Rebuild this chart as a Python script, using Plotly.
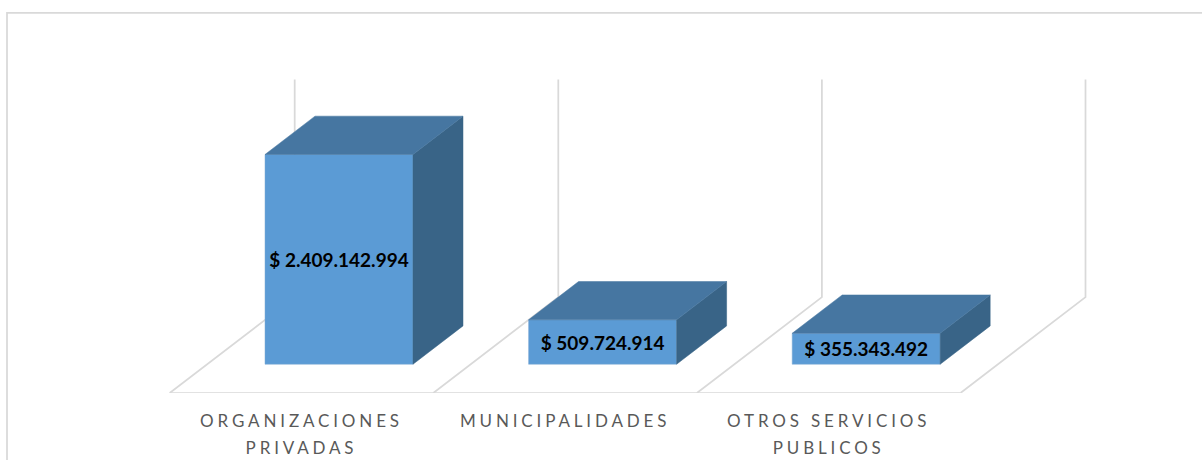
import plotly.graph_objects as go

categories = ["ORGANIZACIONES<br>PRIVADAS", "MUNICIPALIDADES", "OTROS SERVICIOS<br>PUBLICOS"]
values = [2409142994, 509724914, 355343492]
value_labels = ["$ 2.409.142.994", "$ 509.724.914", "$ 355.343.492"]
axis_max = 2500000000

W, H = 1202, 460
CAT_PX = 263.6            # width of one category on the floor
FLOOR_Y = 393.5           # pixel row of the floor's front edge
FIRST_X = 301.5           # pixel column of the first category centre
PX_PER_VALUE = 210 / values[0]
DEPTH_DX = 125 / CAT_PX   # floor depth, in x-axis units
DEPTH_DY = 96 / PX_PER_VALUE  # floor depth, in y-axis units
BAR_W = 148 / CAT_PX
D0, D1 = 0.3, 0.7         # bar's front and back depth on the floor


def px(cat, depth):
    return cat + depth * DEPTH_DX


def py(val, depth):
    return val + depth * DEPTH_DY


fig = go.Figure()

GRID = dict(color="#D9D9D9", width=1.75)

# floor and wall lines, as shapes beneath every trace
shapes = [dict(type="line", xref="x", yref="y", x0=-0.5, x1=len(values) - 0.5, y0=0, y1=0,
               line=GRID, layer="below")]
for i in range(len(values) + 1):
    c = i - 0.5
    shapes.append(dict(type="path", xref="x", yref="y", layer="below", line=GRID,
                       path=f"M{px(c, 0)},{py(0, 0)} L{px(c, 1)},{py(0, 1)} L{px(c, 1)},{py(axis_max, 1)}"))
# chart frame
shapes.append(dict(type="rect", xref="paper", yref="paper",
                   x0=7 / W, x1=1.01, y0=-0.3, y1=(FLOOR_Y - 13) / FLOOR_Y,
                   line=GRID, fillcolor="rgba(0,0,0,0)", layer="below"))

# top and side faces of the bars
EDGE = "#7FA9D3"
for i, v in enumerate(values):
    l, r = i - BAR_W / 2, i + BAR_W / 2
    fig.add_trace(go.Scatter(
        x=[px(r, D0), px(r, D1), px(r, D1), px(r, D0), px(r, D0)],
        y=[py(0, D0), py(0, D1), py(v, D1), py(v, D0), py(0, D0)],
        mode="lines", fill="toself", fillcolor="#396487", line=dict(color="#396487", width=0.5),
        hoverinfo="skip", showlegend=False))
    fig.add_trace(go.Scatter(
        x=[px(l, D0), px(l, D1), px(r, D1), px(r, D0), px(l, D0)],
        y=[py(v, D0), py(v, D1), py(v, D1), py(v, D0), py(v, D0)],
        mode="lines", fill="toself", fillcolor="#4676A1", line=dict(color="#4676A1", width=0.5),
        hoverinfo="skip", showlegend=False))

# front faces
fig.add_trace(go.Bar(
    x=[px(i, D0) for i in range(len(values))],
    y=values,
    base=[py(0, D0)] * len(values),
    width=BAR_W,
    marker=dict(color="#5B9BD5", line=dict(color=EDGE, width=0.5)),
    text=value_labels,
    textposition="inside",
    insidetextanchor="middle",
    textangle=0,
    constraintext="none",
    insidetextfont=dict(family="Lato", size=19, color="#000000", weight="bold"),
    hoverinfo="skip",
    showlegend=False,
))

fig.update_layout(
    width=W, height=H,
    margin=dict(l=0, r=0, t=0, b=H - FLOOR_Y),
    paper_bgcolor="#FFFFFF", plot_bgcolor="#FFFFFF",
    barmode="overlay",
    font=dict(family="Lato"),
    xaxis=dict(
        range=[-FIRST_X / CAT_PX, (W - FIRST_X) / CAT_PX],
        tickmode="array", tickvals=list(range(len(values))), ticktext=categories,
        tickfont=dict(family="Lato", size=17, color="#595959"),
        ticks="", showgrid=False, zeroline=False, showline=False, ticklabelstandoff=16,
    ),
    yaxis=dict(range=[0, FLOOR_Y / PX_PER_VALUE], visible=False),
    shapes=shapes,
)

post = """
document.body.style.margin = '0';
document.body.style.overflow = 'hidden';
document.querySelectorAll('.xtick text').forEach(function (t) {
  t.style.letterSpacing = '3.85px';
  t.querySelectorAll('tspan.line').forEach(function (s, i) {
    if (i > 0) { s.setAttribute('dy', '27px'); }
  });
});
"""
fig.write_html("out.html", post_script=post, config=dict(displayModeBar=False))
